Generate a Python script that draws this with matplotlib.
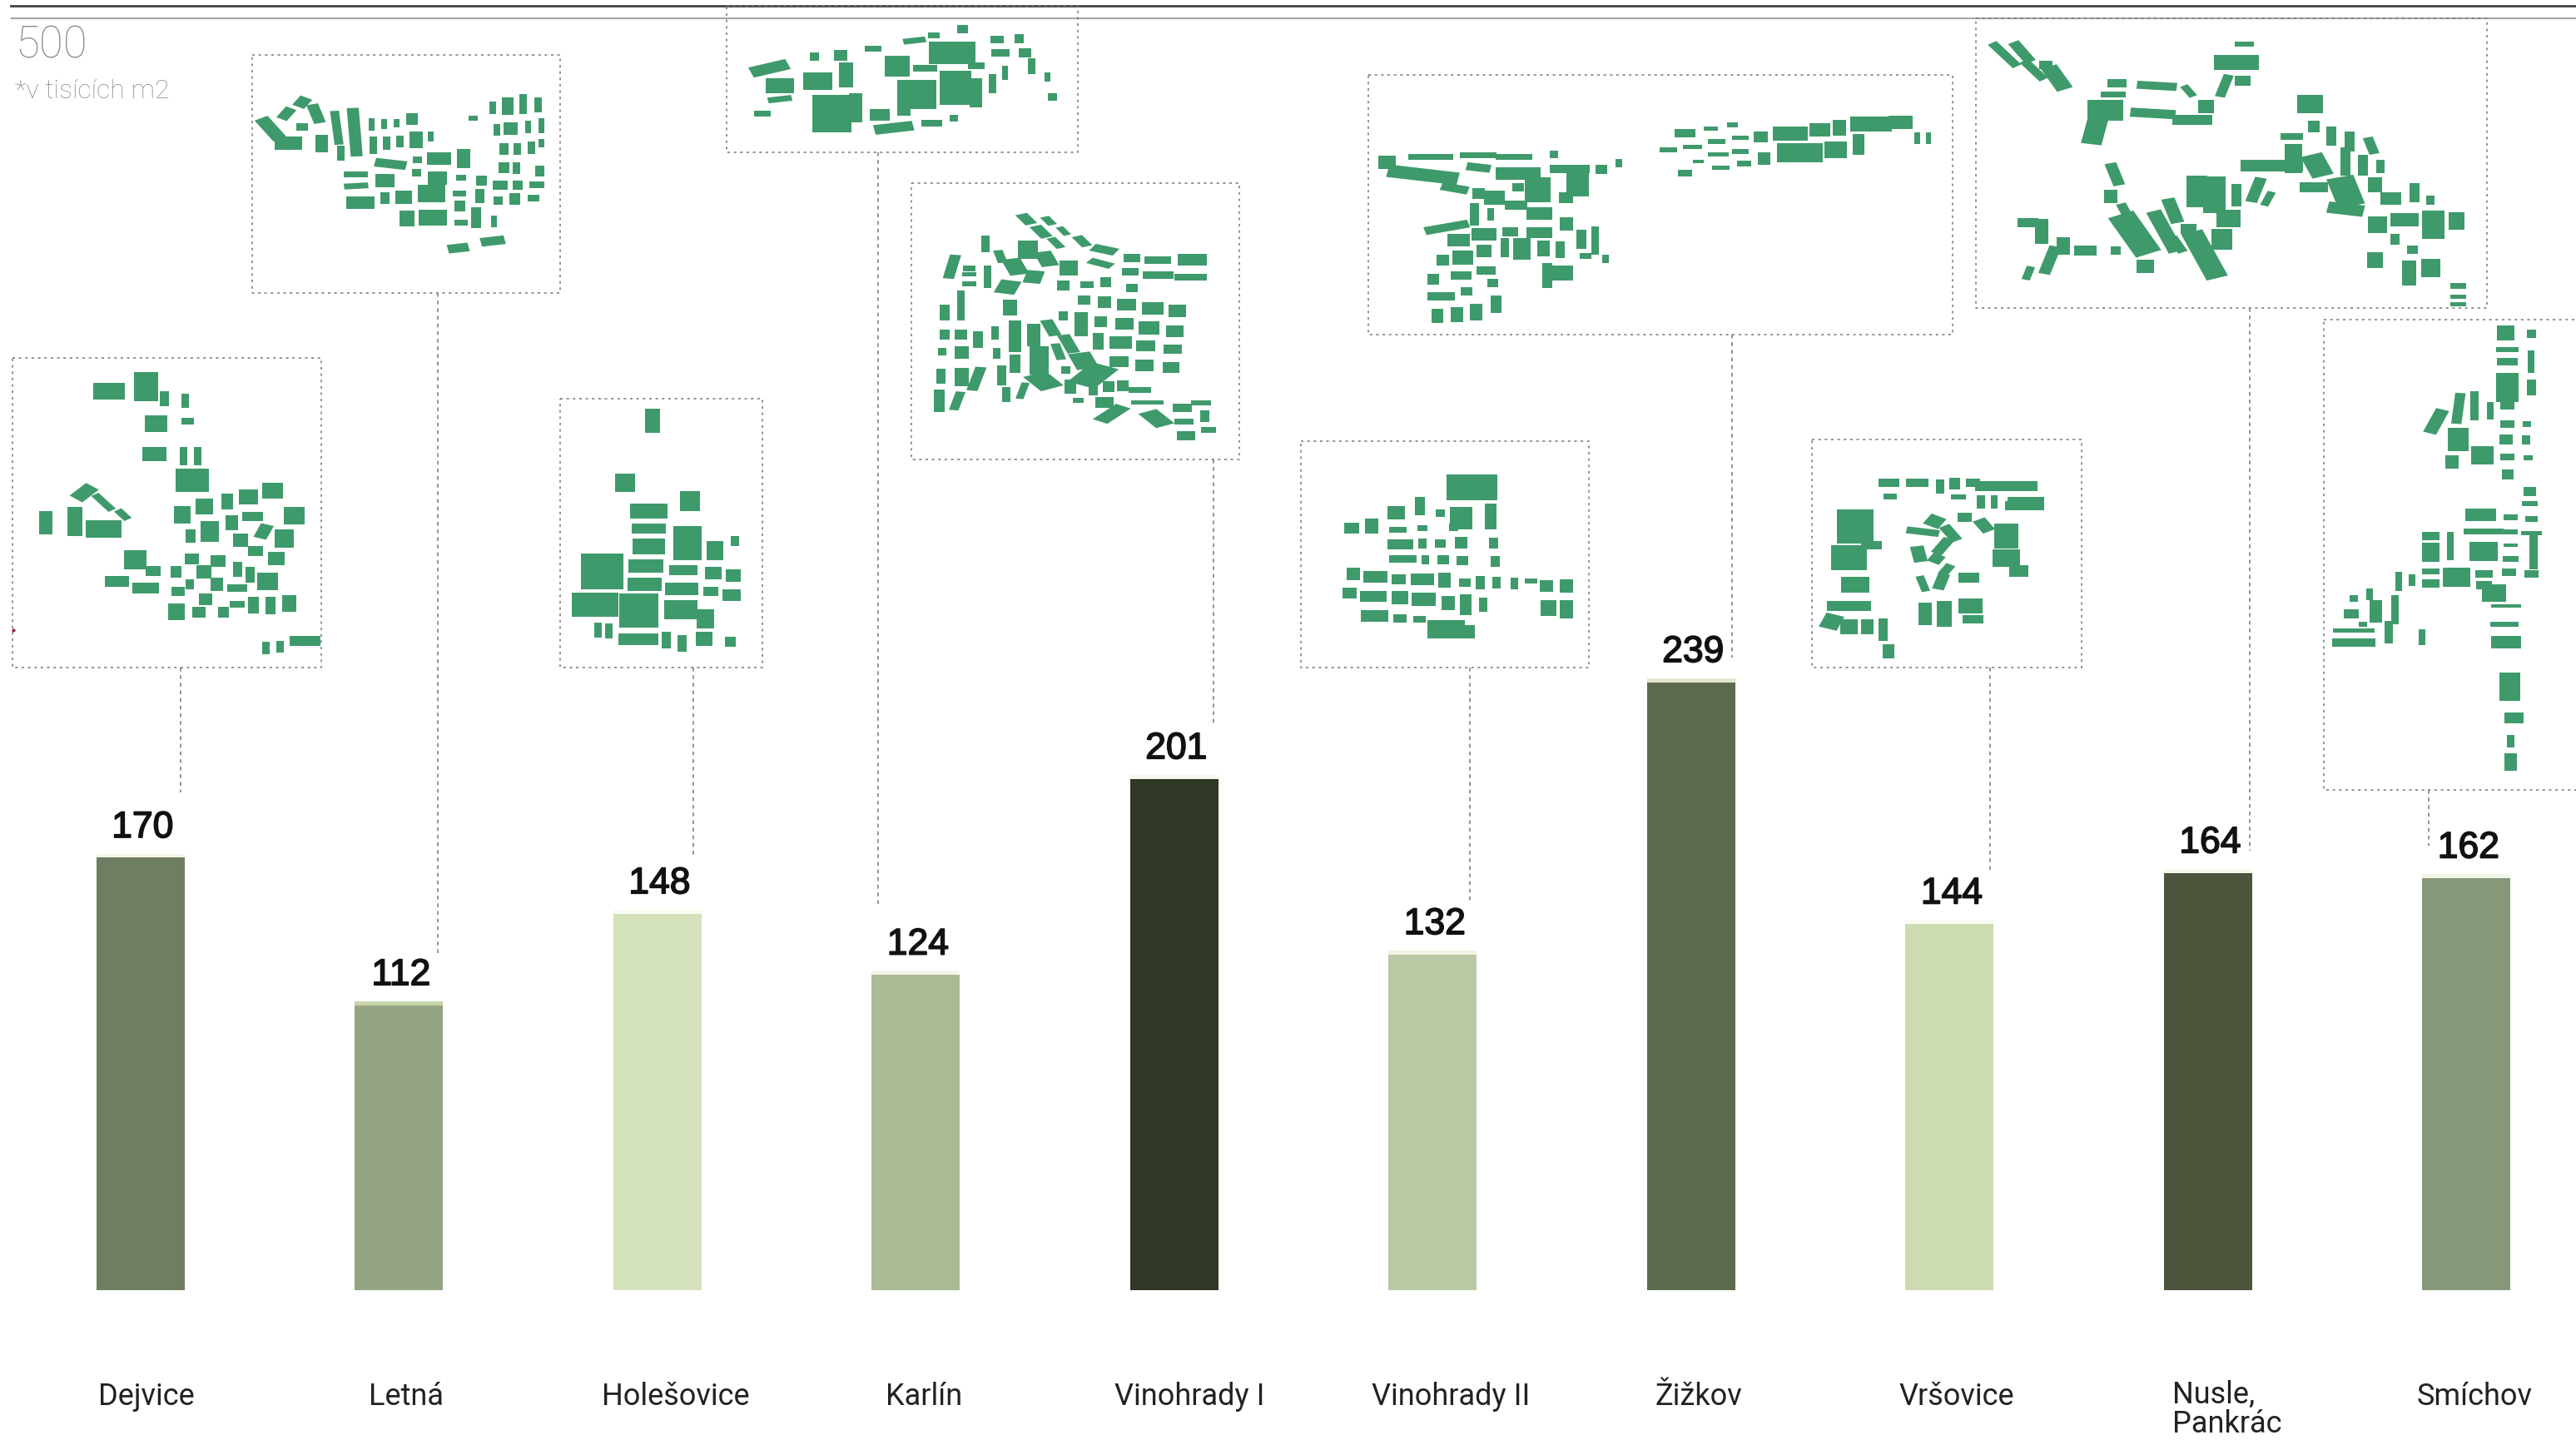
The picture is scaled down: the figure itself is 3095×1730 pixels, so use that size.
import numpy as np
import matplotlib
matplotlib.use("Agg")
import matplotlib.pyplot as plt
import matplotlib.patheffects as pe
from matplotlib.collections import PolyCollection

plt.rcParams['font.family'] = ['Liberation Sans', 'DejaVu Sans']

# chart data, thousands of m2
districts = ["Dejvice", "Letná", "Holešovice", "Karlín", "Vinohrady I", "Vinohrady II",
             "Žižkov", "Vršovice", "Nusle,\nPankrác", "Smíchov"]
values = [170, 112, 148, 124, 201, 132, 239, 144, 164, 162]
bar_colors = ["#6f7e60", "#95a583", "#d4e2bb", "#a9ba95", "#2e3825",
              "#b9c9a3", "#5c6a4e", "#cddcb0", "#4a553c", "#87987a"]
cap_colors = ["#f6f7ea", "#c5d6a8", "#f8faf0", "#f4f6ea", "#f6f7ee",
              "#f0f3e4", "#e4e8cf", "#f8faf0", "#f6f7ee", "#f2f4e8"]
label_x = [176, 488, 812, 1110, 1429, 1743, 2041, 2351, 2677, 2973]

# inset frames: left, top, right, bottom in pixels of the page
frames = {
    "Dejvice": (15, 430, 386, 802),
    "Letná": (303, 66, 673, 352),
    "Holešovice": (673, 479, 916, 802),
    "Karlín": (873, 7, 1295, 183),
    "Vinohrady I": (1095, 220, 1489, 552),
    "Vinohrady II": (1563, 530, 1909, 802),
    "Žižkov": (1644, 90, 2346, 402),
    "Vršovice": (2177, 528, 2501, 802),
    "Nusle": (2374, 22, 2988, 370),
    "Smíchov": (2792, 384, 3110, 949),
}
# leader lines: x, top, bottom
leaders = [(217, 802, 952), (526, 352, 1145), (833, 802, 1030), (1055, 183, 1090),
           (1458, 552, 868), (1766, 802, 1082), (2081, 402, 790), (2391, 802, 1046),
           (2703, 370, 1022), (2918, 949, 1016)]

# street blocks traced by eye from the maps: cx, cy, w, h, angle
zoom1 = (0, 0, 1.206, 1.889)
zoom2 = (1050, 200, 1.12, 2.45)
zoom3 = (1600, 0, 1.049, 1.6)

dejvice = [(158,888,40,34,0),(212,878,30,60,0),(238,905,10,30,0),(268,910,8,30,0),(226,962,28,34,0),(272,956,14,14,0),(224,1030,30,30,0),(266,1035,8,38,0),(286,1035,8,38,0),(279,1090,42,48,0),
           (122,1118,20,34,40),(150,1140,10,40,-35),(178,1168,10,24,-35),(66,1186,16,48,0),(108,1184,18,60,0),(150,1200,46,36,0),
           (395,1114,26,32,0),(360,1128,24,32,0),(329,1138,14,32,0),(296,1150,22,32,0),(264,1168,20,36,0),(426,1170,26,36,0),(366,1172,26,20,0),(336,1186,14,30,0),(304,1206,22,44,0),(276,1216,12,28,0),(382,1206,16,30,20),(412,1222,24,38,0),(348,1226,18,26,0),(370,1250,18,20,0),(400,1268,20,28,0),
           (196,1270,28,40,0),(222,1296,18,22,0),(170,1320,30,22,0),(211,1334,34,22,0),(278,1268,16,22,0),(316,1274,18,24,0),(255,1298,12,24,0),(296,1298,18,28,0),(344,1292,10,30,0),(362,1304,10,32,0),(388,1320,26,36,0),(275,1326,10,20,0),(314,1326,14,28,0),(344,1334,24,16,0),(258,1342,16,18,0),(298,1360,16,24,0),
           (256,1388,20,34,0),(288,1390,16,22,0),(324,1390,12,22,0),(344,1372,18,14,0),(367,1374,12,34,0),(392,1374,12,36,0),(419,1370,16,34,0),(385,1470,8,26,0),(406,1468,8,24,0),(442,1455,38,20,0)]

letna = [(392,292,18,50,-30),(418,325,34,26,0),(415,258,14,26,30),(438,232,16,22,30),(438,288,14,16,0),(458,258,14,40,-15),(466,325,14,36,0),(488,290,10,70,-5),(514,300,14,100,-3),(494,348,8,30,0),(538,282,6,26,0),(557,282,6,20,0),(575,280,6,18,0),(597,270,14,24,0),(541,330,8,36,0),(560,325,8,26,0),(580,322,8,24,0),(603,318,16,34,0),(624,310,6,20,0),(566,372,40,18,10),(605,362,10,14,0),(636,360,30,26,0),(672,360,16,40,0),(516,396,30,12,0),(516,422,30,12,-5),(522,460,36,26,0),(558,410,24,26,0),(558,450,10,24,0),(585,448,20,28,0),(604,392,10,14,0),(634,404,24,28,0),(625,440,34,36,0),(668,404,12,12,0),(698,410,12,20,0),(666,440,16,12,0),(666,468,12,22,0),(695,445,10,30,0),(590,496,18,32,0),(627,494,36,32,0),(668,505,16,12,0),(690,494,12,42,0),(716,502,6,24,0),(725,420,18,20,0),(750,420,12,20,0),(722,455,10,18,0),(746,452,12,24,0),(773,450,14,14,0),(730,380,12,22,0),(748,382,8,24,0),(778,420,18,14,0),(782,388,10,22,0),(730,338,10,24,0),(750,338,8,24,0),(770,336,8,26,0),(784,325,6,16,0),(720,295,8,24,0),(740,292,16,26,0),(765,288,6,26,0),(785,285,6,30,0),(686,268,10,10,0),(714,245,6,26,0),(736,240,14,36,0),(758,236,8,40,0),(780,238,8,30,0),(664,563,26,18,-10),(714,547,30,18,-10)]

holesovice = [(946,955,18,50,0),(906,1095,24,38,0),(1000,1137,24,42,0),(940,1160,48,30,0),(940,1200,44,20,0),(940,1240,40,34,0),(996,1232,36,70,0),(1036,1250,20,40,0),(1065,1228,10,22,0),(872,1297,54,74,0),(936,1284,44,28,0),(990,1294,36,22,0),(1033,1300,20,26,0),(1062,1307,18,26,0),(934,1326,44,28,0),(988,1336,42,26,0),(1030,1342,18,18,0),(1060,1350,22,24,0),(862,1372,60,50,0),(926,1385,50,70,0),(986,1384,42,40,0),(1022,1405,22,40,0),(866,1430,8,30,0),(882,1432,8,30,0),(925,1450,50,24,0),(965,1452,10,34,0),(988,1460,10,34,0),(1020,1450,20,28,0),(1058,1457,12,20,0)]

karlin = [(1115,155,50,22,-20),(1130,195,36,30,0),(1130,225,30,12,-10),(1105,257,20,12,0),(1180,128,10,18,0),(1218,125,16,22,0),(1185,185,36,36,0),(1226,170,16,50,0),(1265,110,20,12,0),(1325,92,28,12,-10),(1353,80,14,12,0),(1395,66,12,16,0),(1300,150,32,44,0),(1340,155,30,14,0),(1380,120,60,46,0),(1445,90,16,16,0),(1477,88,10,20,0),(1415,150,20,14,0),(1450,120,22,14,0),(1485,120,14,20,0),(1495,150,8,32,0),(1518,175,6,20,0),(1525,220,10,14,0),(1205,258,50,76,0),(1240,245,16,60,0),(1275,260,24,24,0),(1310,250,16,24,0),(1328,215,50,60,0),(1385,200,40,70,0),(1414,210,14,60,0),(1438,190,8,40,0),(1456,165,6,30,0),(1295,290,50,20,-10),(1350,280,26,14,0),(1382,268,10,14,0)]

vinohrady1 = [(205,155,14,30,-25),(235,160,10,24,-25),(225,192,14,34,-25),(245,225,10,30,-25),(255,190,8,24,-25),(280,220,12,30,-25),(310,245,30,20,25),(305,285,30,16,30),(347,270,18,22,0),(382,275,30,20,0),(428,275,34,32,0),(345,310,18,20,0),(382,320,36,20,0),(426,325,38,18,0),
              (150,228,8,44,0),(170,265,10,34,-10),(207,245,22,50,0),(232,272,20,40,-15),(190,295,22,44,-15),(262,298,20,40,0),(215,325,20,34,10),(105,295,12,64,8),(128,300,14,16,0),(128,345,16,14,0),(128,318,16,12,0),(153,325,8,60,0),(180,355,24,36,15),(255,350,14,28,0),(287,348,14,18,0),(312,340,12,26,0),(347,358,12,22,0),
              (95,430,10,44,0),(117,410,8,80,0),(183,415,16,44,0),(283,393,14,26,0),(310,400,14,32,0),(340,407,22,32,0),(375,418,24,32,0),(408,425,20,34,0),
              (255,440,10,26,0),(279,465,14,64,0),(305,457,14,30,0),(337,463,20,30,0),(370,475,24,36,0),(405,485,20,30,0),
              (95,495,10,28,0),(117,495,14,26,0),(140,510,10,44,0),(163,490,8,36,0),(190,500,14,84,0),(215,495,14,60,0),(238,475,14,44,-15),(262,522,14,50,-15),(302,515,12,44,0),(332,518,26,34,0),(366,528,22,30,0),(402,538,20,24,0),
              (92,545,8,20,0),(118,548,16,34,0),(165,550,8,30,0),(190,580,12,50,0),(222,570,22,76,0),(248,545,10,44,-10),(282,572,26,44,-15),(330,575,22,30,0),(364,585,20,30,0),(400,592,18,28,0),
              (90,617,10,40,0),(118,620,16,50,0),(138,625,12,64,10),(172,615,10,54,0),(258,600,10,20,0),(228,632,30,44,-30),(295,615,36,60,30),
              (88,690,12,60,0),(112,690,10,50,10),(178,672,8,40,0),(200,660,8,44,10),(264,648,12,40,0),(295,660,10,24,0),(316,648,12,30,0),(335,645,12,30,0),(358,658,26,16,0),(275,688,12,14,0),(310,695,20,30,0),(320,728,20,50,35),(368,695,38,12,0),(380,742,24,44,-30),(415,710,22,22,0),(440,695,22,14,0),(417,750,22,16,0),(445,735,10,30,0),(420,793,20,24,0),(450,775,16,16,0)]

vinohrady2 = [(805,945,60,70,0),(735,1000,10,50,0),(703,1020,20,36,0),(762,1020,10,20,0),(790,1035,26,60,0),(830,1030,12,70,0),(643,1065,16,28,0),(670,1058,14,40,0),(705,1070,20,16,0),(738,1065,10,16,0),(780,1062,10,20,0),(708,1113,30,26,0),(738,1110,8,26,0),(762,1110,12,22,0),(790,1107,14,30,0),(834,1108,10,28,0),(712,1156,32,20,0),(742,1158,8,24,0),(766,1158,12,24,0),(792,1160,12,24,0),(836,1162,10,30,0),(645,1200,14,34,0),(675,1208,28,30,0),(706,1215,16,26,0),(738,1215,26,32,0),(768,1218,14,40,0),(795,1225,12,24,0),(816,1225,10,36,0),(838,1225,8,30,0),(862,1228,8,30,0),(884,1220,14,14,0),(905,1235,14,30,0),(932,1235,14,36,0),(640,1255,16,30,0),(672,1265,30,30,0),(708,1270,18,36,0),(740,1275,28,36,0),(773,1285,14,40,0),(796,1290,12,56,0),(820,1290,8,36,0),(908,1300,18,44,0),(932,1303,14,50,0),(674,1323,32,32,0),(708,1330,14,22,0),(734,1333,14,18,0),(770,1362,44,50,0),(800,1370,14,36,0)]

vrsovice = [(702,928,22,14,0),(704,955,14,10,0),(738,928,24,14,0),(767,935,8,24,0),(785,930,10,20,0),(808,928,14,14,0),(850,934,70,18,0),(875,968,40,22,0),(790,955,16,8,0),(818,965,8,24,0),(835,965,6,24,0),(854,972,8,16,0),(660,1012,40,60,0),(680,1048,22,14,0),(652,1072,40,44,0),(660,1124,30,28,0),(652,1165,48,18,0),(630,1195,20,26,20),(652,1205,18,26,0),(675,1205,12,26,0),(695,1210,8,40,0),(702,1252,12,26,0),
            (760,1002,18,20,30),(745,1022,36,12,10),(780,1025,12,30,-30),(798,995,14,16,0),(822,1010,14,24,-30),(850,1030,26,44,0),(740,1065,14,28,-10),(770,1050,12,30,30),(762,1074,14,16,30),(775,1095,10,20,30),(745,1122,8,28,-15),(768,1118,12,28,15),(803,1110,22,18,0),(850,1073,30,30,0),(866,1098,20,20,0),
            (748,1180,14,40,0),(772,1180,16,44,0),(805,1165,26,26,0),(808,1190,22,14,0)]

zizkov = [(70,312,18,22,0),(125,302,50,10,0),(185,298,40,10,0),(230,302,40,10,0),(280,297,8,14,0),(115,336,80,22,10),(185,322,26,14,10),(235,333,50,22,0),(300,325,44,14,0),(155,362,30,14,15),(185,372,12,20,0),(205,380,22,26,0),(235,360,12,14,0),(260,365,28,44,0),(295,380,14,20,0),(310,350,24,50,0),(340,325,12,16,0),(362,314,6,14,0),
          (180,412,8,40,0),(200,412,6,22,0),(232,395,24,16,0),(262,410,28,22,0),(296,430,14,24,0),(145,437,50,14,-15),(160,462,24,22,0),(192,450,26,22,0),(225,445,16,16,0),(262,447,28,20,0),(315,460,10,34,0),(332,462,6,50,0),
          (140,500,12,20,0),(165,495,22,24,0),(192,482,16,22,0),(218,476,8,32,0),(240,478,18,38,0),(267,478,12,28,0),(288,480,8,28,0),(320,492,12,10,0),(345,498,6,14,0),(128,537,12,18,0),(163,530,22,14,0),(195,520,20,14,0),(170,560,12,14,0),(203,544,10,14,0),(138,570,30,14,0),(133,607,12,24,0),(158,605,12,26,0),(182,600,12,30,0),(207,585,10,30,0),(272,530,10,44,0),(290,525,24,26,0),
          (445,256,22,14,0),(478,247,14,8,0),(505,240,10,8,0),(424,288,18,8,0),(455,282,20,8,0),(485,272,18,8,0),(515,265,18,8,0),(541,263,14,20,0),(578,257,38,24,0),(615,250,22,24,0),(640,245,14,28,0),(680,238,46,26,0),(717,235,26,24,0),(738,265,4,20,0),(752,265,4,20,0),(445,333,14,12,0),(462,310,10,6,0),(487,297,22,8,0),(515,291,18,8,0),(490,322,18,8,0),(520,315,14,10,0),(545,305,12,22,0),(590,294,50,34,0),(635,288,24,30,0),(664,278,12,36,0)]

nusle = [(848,105,10,50,-35),(870,100,12,40,-30),(885,135,10,40,-35),(900,125,14,14,0),(914,150,18,44,-25),(1150,85,20,8,0),(1140,120,50,26,0),(1125,165,10,40,15),(1148,155,16,18,0),(990,160,20,14,0),(985,182,26,10,0),(1040,165,44,14,5),(1080,175,8,22,-30),(1102,205,16,24,0),(975,212,40,36,0),(1035,218,50,16,5),(1085,230,44,18,0),(962,250,22,50,10),
         (1233,200,28,32,0),(1238,243,12,20,0),(1210,262,24,12,0),(1260,262,10,34,0),(1283,272,10,36,0),(1310,280,10,30,-15),(1185,318,70,20,0),(1212,305,18,50,0),(1242,318,24,40,-20),(1278,310,10,50,0),(1300,318,10,36,0),(1322,320,8,22,0),(1238,360,30,18,0),(1278,368,30,52,-15),(1315,355,14,26,0),(1335,382,22,22,0),(1365,370,10,34,0),(1385,385,8,16,0),(1278,402,40,20,10),
         (987,335,12,40,-15),(982,378,14,24,0),(1002,412,10,40,-20),(1012,450,30,76,-25),(1060,405,14,44,-15),(1050,445,16,76,-20),(1080,440,16,18,0),(1066,470,10,30,-25),(1090,368,22,54,0),(1112,375,24,64,0),(1140,375,10,40,0),(1165,365,12,44,15),(1180,382,8,26,20),(1130,420,26,30,0),(1100,490,24,86,-20),(1122,460,22,36,0),(1025,512,18,24,0),
         (878,428,22,16,0),(895,445,14,44,0),(922,473,14,30,0),(950,482,24,18,0),(988,482,10,14,0),(905,500,12,50,15),(878,525,8,24,15),
         (1318,432,20,30,0),(1352,422,30,24,0),(1388,432,24,50,0),(1418,425,16,30,0),(1340,460,8,20,0),(1315,500,16,28,0),(1362,480,10,14,0),(1358,525,14,44,0),(1385,515,20,32,0),(1420,550,16,10,0),(1420,570,16,8,0),(1420,585,16,8,0)]

smichov = [(1480,640,18,26,0),(1512,642,8,14,0),(1482,672,24,10,0),(1512,695,6,40,0),(1482,695,22,14,0),(1482,745,24,50,0),(1512,745,8,28,0),(1482,780,14,14,0),(1482,815,14,14,0),(1506,815,8,10,0),(1480,845,14,18,0),(1505,845,8,16,0),(1482,878,14,12,0),(1508,880,8,8,0),(1482,912,12,18,0),(1510,945,12,16,0),(1510,968,16,8,0),
           (1392,810,14,44,20),(1420,785,10,54,5),(1440,780,8,50,0),(1460,790,6,30,0),(1420,845,22,40,0),(1450,875,24,32,0),(1412,888,14,24,0),
           (1448,990,34,22,0),(1486,995,14,10,0),(1512,997,12,10,0),(1452,1022,44,10,0),(1486,1022,14,8,0),(1512,1025,22,8,0),(1385,1030,18,14,0),(1410,1050,6,50,0),(1385,1062,18,34,0),(1452,1060,30,34,0),(1486,1048,14,6,0),(1515,1062,8,60,0),(1486,1075,16,10,0),
           (1385,1098,18,10,0),(1385,1122,18,14,0),(1418,1110,30,34,0),(1452,1103,18,14,0),(1484,1100,14,14,0),(1512,1103,14,14,0),(1452,1125,16,14,0),(1465,1140,26,30,0),(1345,1118,6,34,0),(1362,1115,6,20,0),(1308,1142,6,20,0),(1288,1150,8,12,0),(1316,1175,12,40,0),(1285,1180,16,16,0),(1340,1172,6,50,0),(1332,1215,8,40,0),(1288,1212,46,8,0),(1288,1235,48,14,0),(1300,1200,8,10,0),(1374,1225,6,28,0),
           (1480,1165,32,6,0),(1478,1200,30,10,0),(1480,1235,32,22,0),(1485,1320,22,50,0),(1490,1380,20,20,0),(1486,1425,6,22,0),(1486,1465,12,30,0)]


def block_polys(blocks, view):
    # rotate each block where it was read, then scale back to page pixels
    ox, oy, sx, sy = view
    polys = []
    for cx, cy, w, h, ang in blocks:
        a = np.radians(ang)
        # blocks read a little small by eye, so fatten them
        dx = np.array([-w, w, w, -w]) * 0.55 + np.array([-1, 1, 1, -1])
        dy = np.array([-h, -h, h, h]) * 0.55
        px = cx + dx * np.cos(a) - dy * np.sin(a)
        py = cy + dx * np.sin(a) + dy * np.cos(a)
        polys.append(np.column_stack([ox + px / sx, oy + py / sy]))
    return polys


fig = plt.figure(figsize=(30.95, 17.30), dpi=100)

# bars, on a value axis that runs past 500 at the top of the page
ax = fig.add_axes([0, 0, 1, 1])
ax.set_xlim(-0.5436, 9.424)
ax.set_ylim(-58.9, 507.2)
ax.axis("off")
pos = np.arange(len(values))
ax.bar(pos, values, width=0.342, color=bar_colors, zorder=2)
ax.bar(pos, 1.5, bottom=values, width=0.342, color=cap_colors, zorder=2)
for i, v in enumerate(values):
    ax.text(i + 0.008, v + 8.0, str(v), ha="center", va="baseline", fontsize=32, color="#111111",
            path_effects=[pe.withStroke(linewidth=1.2, foreground="#111111")], zorder=4)
ax.plot([-0.5, 9.424], [500, 500], color="#a8a8a8", lw=1.6, zorder=1)
ax.plot([-0.5014, 9.424], [505, 505], color="#444444", lw=2, zorder=1)

# maps and their frames, in page pixels
top = fig.add_axes([0, 0, 1, 1])
top.set_xlim(0, 3095)
top.set_ylim(1730, 0)
top.axis("off")
top.patch.set_alpha(0)

polys = (block_polys(dejvice, zoom1) + block_polys(letna, zoom1) + block_polys(holesovice, zoom1)
         + block_polys(karlin, zoom1) + block_polys(vinohrady1, zoom2) + block_polys(vinohrady2, zoom2)
         + block_polys(zizkov, zoom3) + block_polys(vrsovice, zoom3) + block_polys(nusle, zoom3)
         + block_polys(smichov, zoom3))
top.add_collection(PolyCollection(polys, facecolors="#3f9a6b", edgecolors="none"))

for name, (l, t, r, b) in frames.items():
    top.plot([l, r, r, l, l], [t, t, b, b, t], color="#777777", lw=1.1, ls=(0, (2, 3)))
for x, y0, y1 in leaders:
    top.plot([x, x], [y0, y1], color="#777777", lw=1.1, ls=(0, (3, 3)))
top.plot([16], [757], marker="o", ms=3, color="#8c1f33", mew=0)

for x, name in zip(label_x, districts):
    if "\n" in name:
        top.text(2610, 1658, name, ha="left", va="top", fontsize=26, family="Roboto",
                 color="#222222", linespacing=0.95)
    else:
        top.text(x, 1678, name, ha="center", va="center", fontsize=26, family="Roboto",
                 color="#222222")

top.text(18, 70, "500", ha="left", va="baseline", fontsize=38, family="Roboto", weight="light", color="#8f8f8f")
top.text(18, 118, "*v tisících m2", ha="left", va="baseline", fontsize=23, family="Roboto", weight="light", color="#8f8f8f")

fig.savefig("out.png", dpi=100)
